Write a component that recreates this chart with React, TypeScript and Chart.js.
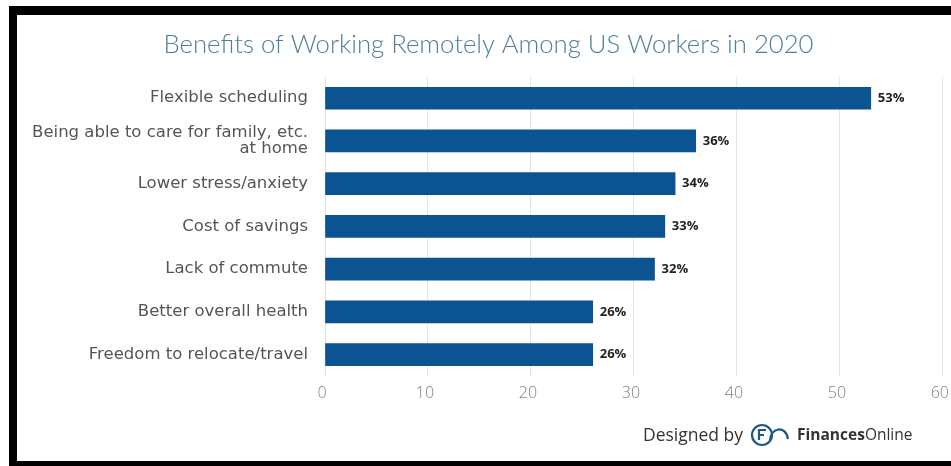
import React, { useEffect, useRef } from "react";
import { Chart, registerables } from "chart.js";

Chart.register(...registerables);

const titleText = "Benefits of Working Remotely Among US Workers in 2020";
const categories: (string | string[])[] = [
  "Flexible scheduling",
  ["Being able to care for family, etc.", "at home"],
  "Lower stress/anxiety",
  "Cost of savings",
  "Lack of commute",
  "Better overall health",
  "Freedom to relocate/travel",
];
const values = [53, 36, 34, 33, 32, 26, 26];
const xTicks = [0, 10, 20, 30, 40, 50, 60];

const valueLabels = {
  id: "valueLabels",
  afterDatasetsDraw(chart: any) {
    const ctx = chart.ctx;
    const meta = chart.getDatasetMeta(0);
    ctx.save();
    ctx.font = "bold 13px 'Open Sans'";
    ctx.fillStyle = "#222";
    ctx.textAlign = "left";
    ctx.textBaseline = "middle";
    meta.data.forEach((bar: any, i: number) => {
      ctx.fillText(values[i] + "%", bar.x + 7, bar.y);
    });
    ctx.restore();
  },
};

export default function App() {
  const ref = useRef<HTMLCanvasElement>(null);
  useEffect(() => {
    document.body.style.overflow = "hidden";
    const chart = new Chart(ref.current!, {
      type: "bar",
      data: {
        labels: categories,
        datasets: [
          {
            data: values,
            backgroundColor: "#0b5491",
            barThickness: 22,
          },
        ],
      },
      options: {
        indexAxis: "y",
        animation: false,
        responsive: false,
        maintainAspectRatio: false,
        layout: { padding: { left: 0, right: 0, top: 0, bottom: 0 } },
        plugins: {
          legend: { display: false },
          tooltip: { enabled: false },
          title: {
            display: true,
            text: titleText,
            color: "#4f7f9a",
            font: { family: "Lato", size: 25.7, weight: "300" as any },
            padding: { top: 14, bottom: 17 },
          },
        },
        scales: {
          x: {
            min: 0,
            max: 60,
            afterBuildTicks: (s: any) => {
              s.ticks = xTicks.map((v) => ({ value: v }));
            },
            afterFit: (s: any) => {
              s.height = 85;
            },
            grid: { color: "#e4e4e4", drawTicks: false },
            border: { display: false },
            ticks: {
              color: "#808080",
              padding: 8,
              labelOffset: -3,
              font: { family: "Open Sans", size: 16, weight: "300" as any },
            },
          },
          y: {
            afterFit: (s: any) => {
              s.width = 308;
            },
            grid: { display: false },
            border: { display: false },
            ticks: {
              color: "#555",
              padding: 9,
              font: { family: "DejaVu Sans", size: 16.5, lineHeight: 0.98 },
            },
          },
        },
      },
      plugins: [valueLabels],
    });
    return () => chart.destroy();
  }, []);

  return (
    <div
      style={{
        position: "absolute",
        left: 9,
        top: 6,
        width: 942,
        height: 460,
        boxSizing: "border-box",
        borderLeft: "8px solid #000",
        borderTop: "9px solid #000",
        borderBottom: "5px solid #000",
        background: "#fff",
        overflow: "hidden",
      }}
    >
      <canvas
        ref={ref}
        width={943}
        height={446}
        style={{ position: "absolute", left: 0, top: 0, width: 943, height: 446 }}
      />
      <div
        style={{
          position: "absolute",
          left: 626,
          top: 406,
          display: "flex",
          alignItems: "center",
          fontFamily: "'Open Sans'",
          color: "#333",
          whiteSpace: "nowrap",
        }}
      >
        <span style={{ fontSize: 17.5 }}>Designed by</span>
        <svg width="42" height="26" viewBox="0 0 42 26" style={{ marginLeft: 7, marginRight: 5 }}>
          <circle cx="12" cy="14" r="10" fill="none" stroke="#1a5a8a" strokeWidth="2.2" />
          <path d="M9 19 V9 H16 M9 14 H14" fill="none" stroke="#1a5a8a" strokeWidth="2.2" />
          <path d="M20 20 C20 6, 36 4, 38 18" fill="none" stroke="#1a5a8a" strokeWidth="2.2" />
        </svg>
        <span style={{ fontSize: 15.5 }}>
          <b style={{ fontWeight: 700 }}>Finances</b>Online
        </span>
      </div>
    </div>
  );
}
